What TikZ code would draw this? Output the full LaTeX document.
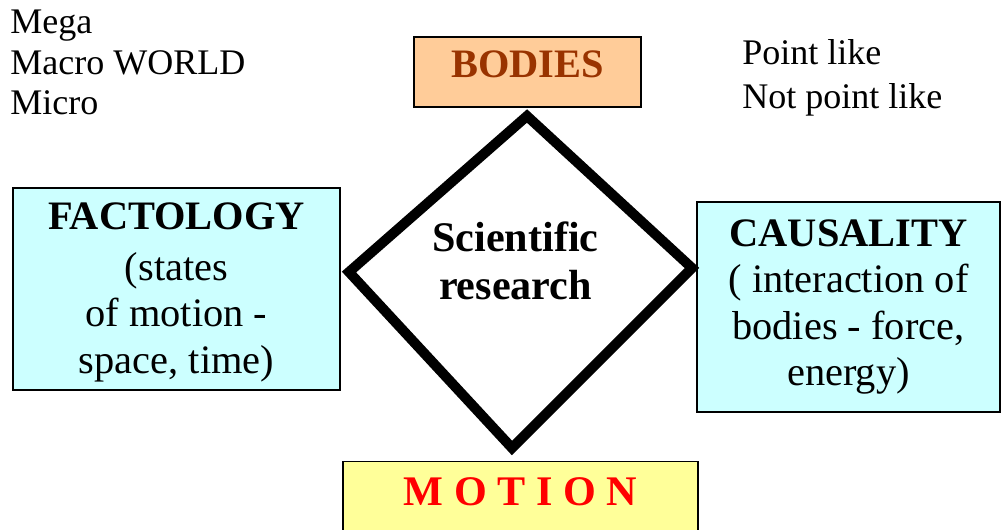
\documentclass[tikz,border=0pt]{standalone}
\usepackage{fontspec}
\setmainfont{Liberation Serif}
\definecolor{bodiesfill}{HTML}{FFCC99}
\definecolor{bodiestext}{HTML}{993300}
\definecolor{boxcyan}{HTML}{CCFFFF}
\definecolor{motionfill}{HTML}{FFFF99}
\begin{document}
\begin{tikzpicture}[x=0.02cm, y=-0.02cm, line join=miter,
        box/.style={draw, line width=0.8pt, inner sep=0pt, align=center, font=\fontsize{23}{26.5}\selectfont},
        plain/.style={inner sep=0pt, anchor=north west, align=left, font=\fontsize{20.5}{23}\selectfont}]
    \clip (0,0) rectangle (1001,529);
    % boxes round the diamond
    \node[box, fill=bodiesfill, text=bodiestext, font=\fontsize{23}{26.5}\selectfont\bfseries, minimum width=4.54cm, minimum height=1.4cm, text height=15.6pt, text depth=9.7pt] (bodies) at (527.5,72) {BODIES};
    \node[box, fill=boxcyan, minimum width=6.54cm, minimum height=4.04cm] (factology) at (176.5,289) {\rule{0pt}{19pt}\textbf{FACTOLOGY}\\[2.3pt](states\\of motion -\\space, time)};
    \node[box, fill=boxcyan, minimum width=6.06cm, minimum height=4.2cm] (causality) at (848.5,307) {\textbf{CAUSALITY}\\( interaction of\\bodies - force,\\energy)};
    \node[box, fill=motionfill, text=red, font=\fontsize{24}{28}\selectfont\bfseries, minimum width=7.1cm, anchor=north, inner ysep=9pt, text height=16pt, text depth=80pt] (motion) at (520.5,461) {M O T I O N};
    % the diamond
    \coordinate (dtop) at (527,116);
    \coordinate (dright) at (692,268);
    \coordinate (dbottom) at (512,448);
    \coordinate (dleft) at (349,272);
    \draw[line width=5.7pt] (dtop) -- (dright) -- (dbottom) -- (dleft) -- cycle;
    \node[font=\fontsize{24}{27.3}\selectfont\bfseries, align=center, inner sep=0pt] (research) at (515.5,260.5) {Scientific\\research};
    % side notes
    \node[plain] (scales) at (10,10) {Mega\\Macro WORLD\\Micro};
    \node[plain, font=\fontsize{20.5}{25}\selectfont] (kinds) at (742,39) {Point like\\Not point like};
\end{tikzpicture}
\end{document}
